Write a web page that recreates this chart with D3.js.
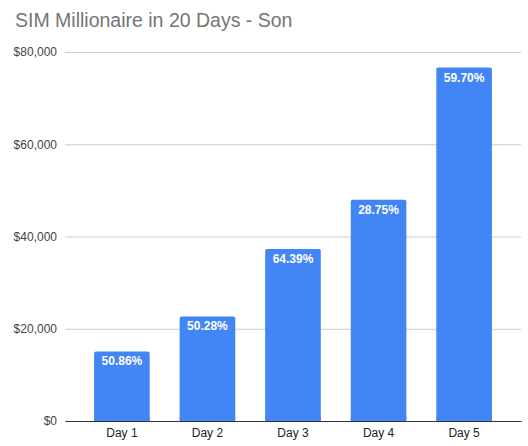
<!DOCTYPE html>
<html>
<head>
<meta charset="utf-8">
<script src="https://cdn.jsdelivr.net/npm/d3@7"></script>
<style>
  body { margin: 0; background: #fff; }
  svg { display: block; font-family: Arial, "Liberation Sans", sans-serif; }
</style>
</head>
<body>
<svg width="528" height="446"></svg>
<script>
var days = ["Day 1", "Day 2", "Day 3", "Day 4", "Day 5"];
var balance = [15086, 22671, 37269, 47984, 76630];
var growth = ["50.86%", "50.28%", "64.39%", "28.75%", "59.70%"];
var yTicks = [0, 20000, 40000, 60000, 80000];

var svg = d3.select("svg"),
    plotLeft = 65, plotRight = 521, plotTop = 52, plotBottom = 421;

var x = d3.scaleBand()
  .domain(days)
  .range([plotLeft, plotRight])
  .paddingInner(0.35)
  .paddingOuter(0.34);

var y = d3.scaleLinear()
  .domain([0, 80000])
  .range([plotBottom, plotTop]);

svg.append("text")
  .attr("x", 15)
  .attr("y", 27)
  .style("font-size", "19.5px")
  .style("fill", "#757575")
  .text("SIM Millionaire in 20 Days - Son");

// gridlines + y labels
var yAxis = d3.axisLeft(y)
  .tickValues(yTicks)
  .tickSize(-(plotRight - plotLeft))
  .tickPadding(8)
  .tickFormat(function(d) { return "$" + d3.format(",")(d); });

var gy = svg.append("g")
  .attr("transform", "translate(" + plotLeft + ",0)")
  .call(yAxis);
gy.select(".domain").remove();
gy.selectAll(".tick line").attr("stroke", "#cccccc");
gy.selectAll(".tick text")
  .attr("x", -8)
  .style("font-size", "12px")
  .style("font-family", "Arial, 'Liberation Sans', sans-serif")
  .style("fill", "#444");

// bars
svg.append("g")
  .selectAll("rect")
  .data(balance)
  .enter().append("rect")
  .attr("x", function(d, i) { return x(days[i]); })
  .attr("y", function(d) { return y(d); })
  .attr("width", x.bandwidth())
  .attr("height", function(d) { return y(0) - y(d); })
  .attr("rx", 2)
  .style("fill", "#4285f4");

// square off bottom corners
svg.append("g")
  .selectAll("rect")
  .data(balance)
  .enter().append("rect")
  .attr("x", function(d, i) { return x(days[i]); })
  .attr("y", function(d) { return y(0) - 4; })
  .attr("width", x.bandwidth())
  .attr("height", 4)
  .style("fill", "#4285f4");

// labels in bars
svg.append("g")
  .selectAll("text")
  .data(balance)
  .enter().append("text")
  .attr("x", function(d, i) { return x(days[i]) + x.bandwidth() / 2; })
  .attr("y", function(d) { return y(d) + 14; })
  .attr("text-anchor", "middle")
  .style("font-size", "12px")
  .style("font-weight", "bold")
  .style("fill", "#ffffff")
  .text(function(d, i) { return growth[i]; });

// x axis
var gx = svg.append("g")
  .attr("transform", "translate(0," + plotBottom + ")")
  .call(d3.axisBottom(x).tickSize(0).tickPadding(7));
gx.select(".domain").attr("stroke", "#333").attr("stroke-width", 1.2);
gx.selectAll(".tick text")
  .style("font-size", "12px")
  .style("font-family", "Arial, 'Liberation Sans', sans-serif")
  .style("fill", "#222");
</script>
</body>
</html>
